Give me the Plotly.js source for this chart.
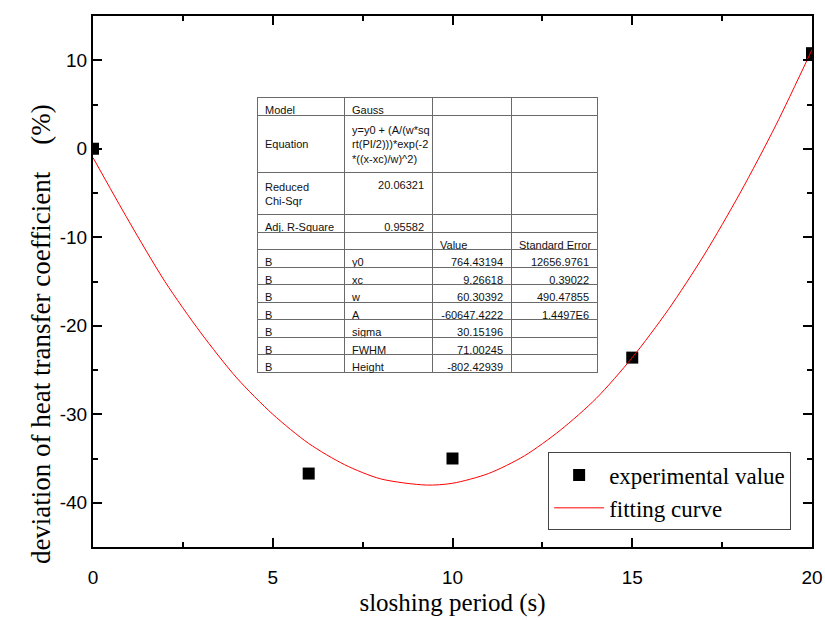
<!DOCTYPE html>
<html>
<head>
<meta charset="utf-8">
<script src="https://cdn.plot.ly/plotly-3.0.1.min.js"></script>
<style>
  html, body { margin: 0; padding: 0; background: #fff; }
  #chart { width: 825px; height: 620px; }
</style>
</head>
<body>
<div id="chart"></div>
<script>
// ---- Data ----
const expX = [0, 6, 10, 15, 20];
const expY = [0, -36.7, -35.0, -23.6, 10.8];

const fitX = [0, 1, 2, 3, 4, 5, 6, 7, 8, 9.27, 10, 11, 12, 13, 14, 15, 16, 17, 18, 19, 20];
const fitY = [-1.0, -8.2, -15.0, -20.8, -25.9, -30.0, -33.3, -35.7, -37.3, -38.0, -37.8, -36.7, -34.7, -31.8, -28.2, -23.6, -18.2, -12.0, -5.0, 2.7, 11.2];

const yTickVals = [-40, -30, -20, -10, 0, 10];
const yTickText = ["-40", "-30", "-20", "-10", "0", "10"];
const xTickVals = [0, 5, 10, 15, 20];
const xTickText = ["0", "5", "10", "15", "20"];

// Fit report table
const NB = "\u00a0";
const tableHeader = ["Model", "Gauss", "", ""];
const tableCol1 = [NB + "<br>Equation", "Reduced<br>Chi-Sqr", "Adj." + NB + "R-Square", "", "B", "B", "B", "B", "B", "B", "B"];
const tableCol2 = ["y=y0" + NB + "+" + NB + "(A/(w*sq<br>rt(PI/2)))*exp(-2<br>*((x-xc)/w)^2)", "20.06321", "0.95582", "", "y0", "xc", "w", "A", "sigma", "FWHM", "Height"];
const tableCol3 = ["", "", "", "Value", "764.43194", "9.26618", "60.30392", "-60647.4222", "30.15196", "71.00245", "-802.42939"];
const tableCol4 = ["", "", "", "Standard" + NB + "Error", "12656.9761", "0.39022", "490.47855", "1.4497E6", "", "", ""];

const L = "left", R = "right";
const alignCol1 = [L, L, L, L, L, L, L, L, L, L, L];
const alignCol2 = [L, R, R, L, L, L, L, L, L, L, L];
const alignCol3 = [L, L, L, L, R, R, R, R, R, R, R];
const alignCol4 = [L, L, L, L, R, R, R, R, R, R, R];

const serif = "'Liberation Serif', 'Times New Roman', serif";
const sans = "'Liberation Sans', Arial, sans-serif";

const traces = [
  {
    type: "scatter",
    mode: "markers",
    x: expX,
    y: expY,
    name: "experimental value",
    marker: { symbol: "square", size: 12, color: "#000" },
    cliponaxis: true
  },
  {
    type: "scatter",
    mode: "lines",
    x: fitX,
    y: fitY,
    name: "fitting curve",
    line: { color: "#ff0000", width: 1, shape: "spline", smoothing: 0.8 }
  },
  {
    type: "table",
    domain: { x: [0.2281, 0.7010], y: [0.26, 0.8456] },
    columnwidth: [87, 88, 79, 86],
    header: {
      values: tableHeader,
      align: "left",
      height: 18,
      fill: { color: "#fff" },
      line: { color: "#6a6a6a", width: 1 },
      font: { family: sans, size: 11, color: "#111" }
    },
    cells: {
      values: [tableCol1, tableCol2, tableCol3, tableCol4],
      align: [alignCol1, alignCol2, alignCol3, alignCol4],
      height: 17.5,
      fill: { color: "#fff" },
      line: { color: "#6a6a6a", width: 1 },
      font: { family: sans, size: 11, color: "#111" }
    }
  }
];

const layout = {
  width: 825,
  height: 620,
  margin: { l: 93, r: 13, t: 16, b: 73 },
  paper_bgcolor: "#fff",
  plot_bgcolor: "#fff",
  showlegend: true,
  legend: {
    x: 0.633, y: 0.178, xanchor: "left", yanchor: "top",
    bgcolor: "#fff", bordercolor: "#444", borderwidth: 1,
    font: { family: serif, size: 23, color: "#000" },
    itemwidth: 50,
    tracegroupgap: 0
  },
  xaxis: {
    range: [0, 20],
    tickmode: "array",
    tickvals: xTickVals,
    ticktext: xTickText,
    ticks: "inside", ticklen: 9, tickwidth: 2, tickcolor: "#000",
    minor: { dtick: 2.5, tick0: 0, ticks: "inside", ticklen: 5, tickwidth: 2, tickcolor: "#000" },
    showline: true, linecolor: "#000", linewidth: 2, mirror: "allticks",
    showgrid: false, zeroline: false,
    ticklabelstandoff: 12,
    tickfont: { family: sans, size: 19, color: "#000" },
    title: { text: "sloshing period (s)", font: { family: serif, size: 25, color: "#000" }, standoff: 7 }
  },
  yaxis: {
    range: [-45, 15],
    tickmode: "array",
    tickvals: yTickVals,
    ticktext: yTickText,
    ticks: "inside", ticklen: 9, tickwidth: 2, tickcolor: "#000",
    minor: { dtick: 5, tick0: 0, ticks: "inside", ticklen: 5, tickwidth: 2, tickcolor: "#000" },
    showline: true, linecolor: "#000", linewidth: 2, mirror: "allticks",
    showgrid: false, zeroline: false,
    tickfont: { family: sans, size: 19, color: "#000" }
  },
  annotations: [
    {
      text: "deviation of heat transfer coefficient" + NB + NB + NB + NB + "(%)",
      xref: "paper", yref: "paper",
      x: -0.073, y: 0.40,
      xanchor: "center", yanchor: "middle",
      textangle: -90,
      showarrow: false,
      font: { family: serif, size: 27, color: "#000" }
    }
  ]
};

Plotly.newPlot("chart", traces, layout, { displayModeBar: false, staticPlot: true });
</script>
</body>
</html>
